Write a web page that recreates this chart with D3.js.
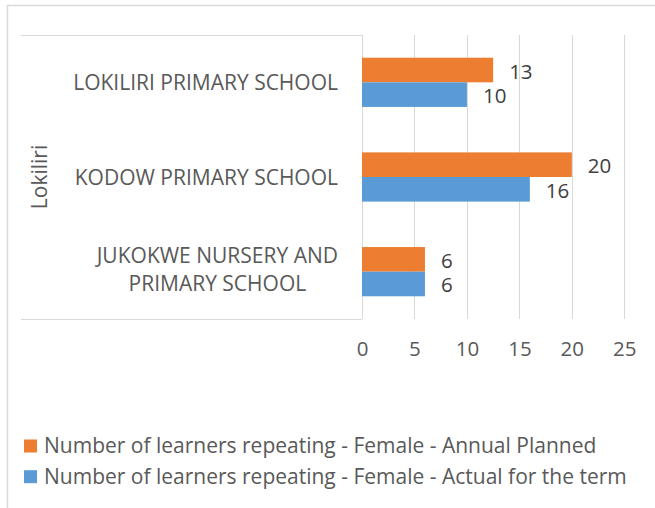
<!DOCTYPE html>
<html>
<head>
<meta charset="utf-8">
<script src="https://cdn.jsdelivr.net/npm/d3@7"></script>
<style>
  body { margin: 0; background: #fff; }
  text { font-family: "Open Sans", sans-serif; }
</style>
</head>
<body>
<script>
// categories top to bottom, as they appear
var schools = ["LOKILIRI PRIMARY SCHOOL", "KODOW PRIMARY SCHOOL", "JUKOKWE NURSERY AND PRIMARY SCHOOL"];
var groupLabel = "Lokiliri";
var seriesNames = ["Number of learners repeating - Female - Annual Planned",
                   "Number of learners repeating - Female - Actual for the term"];
var planned = [12.5, 20, 6];
var actual = [10, 16, 6];
var xTicks = [0, 5, 10, 15, 20, 25];
var colors = ["#ed7d31", "#5b9bd5"];

var W = 655, H = 508;
var plot = {left: 362, right: 624.3, top: 35, bottom: 319};

var svg = d3.select("body").append("svg")
  .attr("width", W)
  .attr("height", H);

// outer chart frame (runs off the picture right and bottom)
svg.append("path")
  .attr("d", "M7.5," + (H + 5) + "V5.5H" + (W + 5))
  .attr("fill", "none")
  .attr("stroke", "#d9d9d9")
  .attr("stroke-width", 1.5);

var x = d3.scaleLinear().domain([0, 25]).range([plot.left, plot.right]);
var y = d3.scaleBand().domain(schools).range([plot.top, plot.bottom])
  .paddingInner(0.48).paddingOuter(0.24);
var ySub = d3.scaleBand().domain([0, 1]).range([0, y.bandwidth()]);

// gridlines
svg.selectAll(".grid")
  .data(xTicks)
  .enter().append("line")
  .attr("x1", function (d) { return Math.round(x(d)) + 0.5; })
  .attr("x2", function (d) { return Math.round(x(d)) + 0.5; })
  .attr("y1", plot.top)
  .attr("y2", plot.bottom)
  .attr("stroke", "#d9d9d9")
  .attr("stroke-width", 1);

// multi-level category box lines
[plot.top, plot.bottom].forEach(function (yy) {
  svg.append("line")
    .attr("x1", 21).attr("x2", plot.left)
    .attr("y1", Math.round(yy) + 0.5).attr("y2", Math.round(yy) + 0.5)
    .attr("stroke", "#d9d9d9");
});

// x axis labels
var xAxis = svg.append("g")
  .attr("transform", "translate(0," + 341.5 + ")")
  .call(d3.axisBottom(x).tickValues(xTicks).tickSize(0).tickPadding(0));
xAxis.select(".domain").remove();
xAxis.selectAll("text")
  .attr("font-family", "Open Sans")
  .attr("font-size", 20.5)
  .attr("fill", "#595959");

// bars
var series = [planned, actual];
series.forEach(function (vals, si) {
  svg.selectAll(".bar" + si)
    .data(vals)
    .enter().append("rect")
    .attr("x", x(0))
    .attr("y", function (d, i) { return y(schools[i]) + ySub(si); })
    .attr("width", function (d) { return x(d) - x(0); })
    .attr("height", ySub.bandwidth())
    .attr("fill", colors[si]);

  svg.selectAll(".lab" + si)
    .data(vals)
    .enter().append("text")
    .attr("x", function (d) { return x(d) + 16; })
    .attr("y", function (d, i) { return y(schools[i]) + ySub(si) + ySub.bandwidth() / 2 + 8.5; })
    .attr("font-size", 20.5)
    .attr("fill", "#404040")
    .text(function (d) { return d3.format(".0f")(d); });
});

// category labels, wrapped and right aligned to the axis
var labelRight = 338, maxW = 300, lineH = 28.4, fs = 21;
schools.forEach(function (s) {
  var g = svg.append("g");
  var words = s.split(" "), lines = [], cur = [];
  var probe = g.append("text").attr("font-size", fs);
  words.forEach(function (w) {
    cur.push(w);
    probe.text(cur.join(" "));
    if (probe.node().getComputedTextLength() > maxW && cur.length > 1) {
      cur.pop();
      lines.push(cur.join(" "));
      cur = [w];
    }
  });
  lines.push(cur.join(" "));
  var widths = lines.map(function (l) {
    probe.text(l);
    return probe.node().getComputedTextLength();
  });
  probe.remove();
  var cx = labelRight - d3.max(widths) / 2;
  var c = y(s) + y.bandwidth() / 2;
  lines.forEach(function (l, i) {
    g.append("text")
      .attr("x", cx)
      .attr("y", c + 7.5 + (i - (lines.length - 1) / 2) * lineH - (lines.length > 1 ? 2 : 0))
      .attr("text-anchor", "middle")
      .attr("font-size", fs)
      .attr("fill", "#595959")
      .text(l);
  });
});

// group label
svg.append("text")
  .attr("transform", "translate(46.5," + (plot.top + plot.bottom) / 2 + ") rotate(-90)")
  .attr("text-anchor", "middle")
  .attr("font-size", fs)
  .attr("fill", "#595959")
  .text(groupLabel);

// legend
var legend = svg.selectAll(".legend")
  .data(seriesNames)
  .enter().append("g")
  .attr("transform", function (d, i) { return "translate(24," + (439.5 + i * 30.7) + ")"; });
legend.append("rect")
  .attr("width", 13)
  .attr("height", 13)
  .attr("fill", function (d, i) { return colors[i]; });
legend.append("text")
  .attr("x", 20)
  .attr("y", 13.5)
  .attr("font-size", fs)
  .attr("fill", "#595959")
  .text(function (d) { return d; });
</script>
</body>
</html>
